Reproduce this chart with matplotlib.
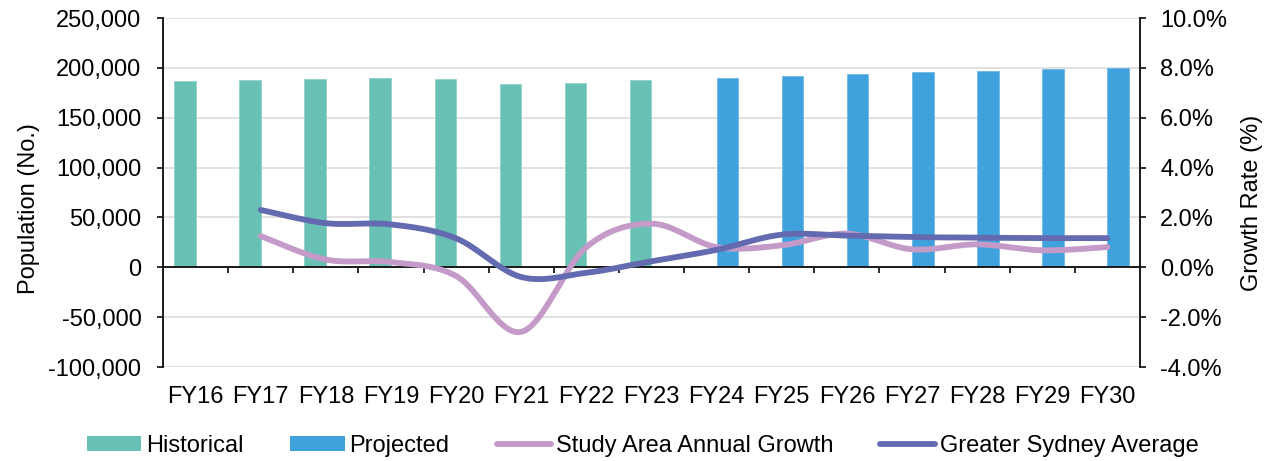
import numpy as np
import matplotlib
matplotlib.use("Agg")
import matplotlib.pyplot as plt
from matplotlib.patches import Patch
from matplotlib.lines import Line2D
from matplotlib.ticker import FuncFormatter

plt.rcParams['font.family'] = ['Liberation Sans', 'DejaVu Sans']

categories = ["FY16", "FY17", "FY18", "FY19", "FY20", "FY21", "FY22", "FY23",
              "FY24", "FY25", "FY26", "FY27", "FY28", "FY29", "FY30"]
historical = [186500, 188300, 189000, 189700, 188700, 184000, 185000, 188300,
              None, None, None, None, None, None, None]
projected = [None, None, None, None, None, None, None, None,
             190000, 191700, 194300, 195700, 197300, 198700, 200300]
# growth rates (%) from FY17 to FY30
study_growth = [1.25, 0.31, 0.21, -0.35, -2.59, 0.81, 1.75,
                0.81, 0.88, 1.35, 0.72, 0.92, 0.68, 0.81]
sydney_avg = [2.30, 1.77, 1.72, 1.16, -0.39, -0.22, 0.24,
              0.70, 1.31, 1.27, 1.21, 1.19, 1.17, 1.17]

C_HIST = "#69C0B4"
C_PROJ = "#3FA2DC"
C_STUDY = "#C49AC8"
C_SYD = "#636AAF"
FS = 17
LW = 4.2


def smooth(xs, ys, n=40):
    pts = np.column_stack([xs, ys]).astype(float)
    out = []
    m = len(pts)
    for i in range(m - 1):
        p0 = pts[i - 1] if i > 0 else pts[i]
        p1 = pts[i]
        p2 = pts[i + 1]
        p3 = pts[i + 2] if i + 2 < m else pts[i + 1]
        c1 = p1 + (p2 - p0) / 6.0
        c2 = p2 - (p3 - p1) / 6.0
        t = np.linspace(0, 1, n, endpoint=(i == m - 2))[:, None]
        seg = ((1 - t) ** 3) * p1 + 3 * ((1 - t) ** 2) * t * c1 + 3 * (1 - t) * t ** 2 * c2 + t ** 3 * p2
        out.append(seg)
    out = np.vstack(out)
    return out[:, 0], out[:, 1]


fig = plt.figure(figsize=(12.85, 4.61), dpi=100)
ax = fig.add_axes([163 / 1285, 94 / 461, 977 / 1285, 349 / 461])
ax2 = ax.twinx()

x = np.arange(len(categories))
w = 0.33
hx = [xi - w / 2 for xi, v in zip(x, historical) if v is not None]
hv = [v for v in historical if v is not None]
px = [xi + w / 2 for xi, v in zip(x, projected) if v is not None]
pv = [v for v in projected if v is not None]
ax.bar(hx, hv, width=w, color=C_HIST, edgecolor="#8fd3c9", linewidth=0.6, zorder=2)
ax.bar(px, pv, width=w, color=C_PROJ, edgecolor="#6cb9e6", linewidth=0.6, zorder=2)

ax.set_xlim(-0.5, len(categories) - 0.5)
ax.set_ylim(-100000, 250000)
ax.set_yticks(np.arange(-100000, 250001, 50000))
ax.yaxis.set_major_formatter(FuncFormatter(lambda v, p: f"{int(v):,}".replace("\u2212", "-")))
ax.grid(axis='y', color="#D9D9D9", lw=1.1, zorder=0)
ax.set_axisbelow(True)

# boundary ticks on zero line
ax.spines['bottom'].set_position(('data', 0))
ax.set_xticks(np.arange(0.5, len(categories) - 1, 1))
ax.tick_params(axis='x', direction='out', length=4.5, width=1.3, color='#1a1a1a', labelbottom=False)
ax.tick_params(axis='y', direction='out', length=4.5, width=1.3, color='#1a1a1a', labelsize=FS, pad=11)
for s in ['top', 'right']:
    ax.spines[s].set_visible(False)
for s in ['left', 'bottom']:
    ax.spines[s].set_linewidth(1.4)
    ax.spines[s].set_color('#1a1a1a')

# category labels at bottom of axes
sec = ax.secondary_xaxis('bottom')
sec.set_xticks(x, labels=categories)
sec.tick_params(length=0, pad=14, labelsize=FS)
sec.spines['bottom'].set_visible(False)

# growth lines
gx = np.arange(1, len(categories))
sx, sy = smooth(gx, study_growth)
ax2.plot(sx, sy, color=C_STUDY, lw=LW, solid_capstyle='round', zorder=3)
yx, yy = smooth(gx, sydney_avg)
ax2.plot(yx, yy, color=C_SYD, lw=LW, solid_capstyle='round', zorder=4)
ax2.set_ylim(-4, 10)
ax2.set_yticks(np.arange(-4, 10.01, 2))
ax2.yaxis.set_major_formatter(FuncFormatter(lambda v, p: f"{v:.1f}%".replace("\u2212", "-")))
ax2.tick_params(axis='y', direction='out', length=4.5, width=1.3, color='#1a1a1a', labelsize=FS, pad=10)
for s in ['top', 'left', 'bottom']:
    ax2.spines[s].set_visible(False)
ax2.spines['right'].set_linewidth(1.4)
ax2.spines['right'].set_color('#1a1a1a')

ax.text(-0.137, 0.454, "Population (No.)", transform=ax.transAxes, rotation=90,
        ha='center', va='center', rotation_mode='anchor', fontsize=FS)
ax2.text(1.1146, 0.471, "Growth Rate (%)", transform=ax.transAxes, rotation=90,
         ha='center', va='center', rotation_mode='anchor', fontsize=FS)

handles = [Patch(facecolor=C_HIST), Patch(facecolor=C_PROJ),
           Line2D([], [], color=C_STUDY, lw=LW, solid_capstyle='round'),
           Line2D([], [], color=C_SYD, lw=LW, solid_capstyle='round')]
labels = ["Historical", "Projected", "Study Area Annual Growth", "Greater Sydney Average"]
fig.legend(handles, labels, loc='center', bbox_to_anchor=(0.5, 1 - 446 / 461), ncol=4,
           frameon=False, fontsize=FS, handlelength=2.3, handleheight=0.6,
           handletextpad=0.2, columnspacing=2.0)

fig.savefig("out.png", dpi=100)
